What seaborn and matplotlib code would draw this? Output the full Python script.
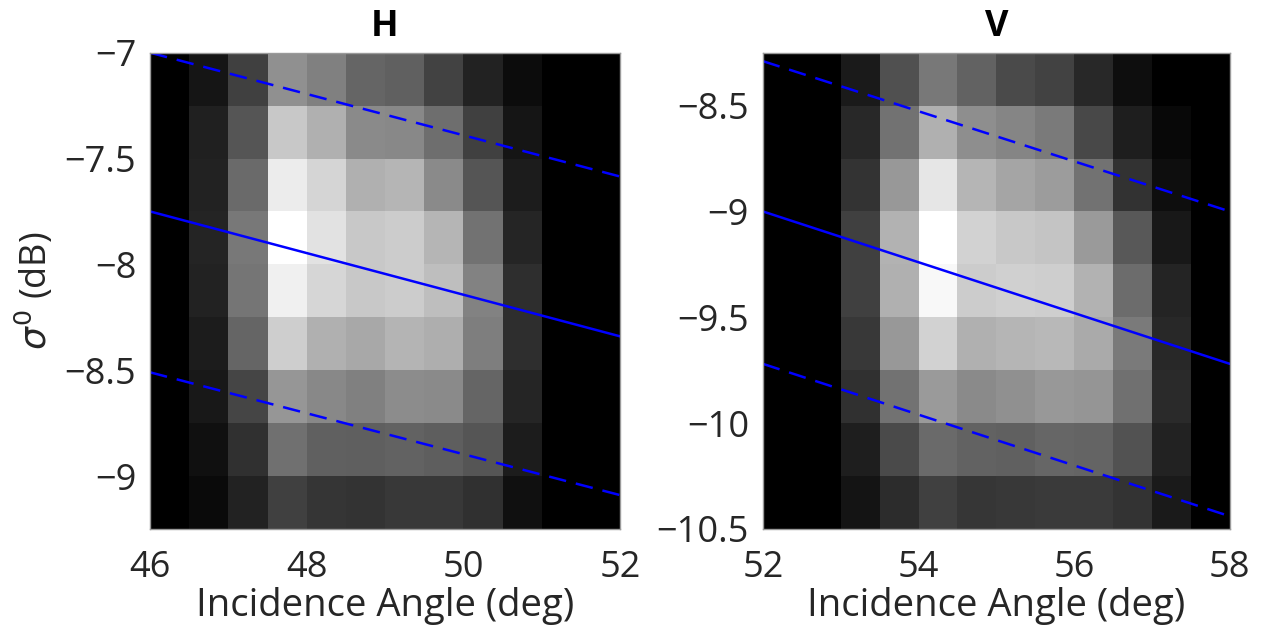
import matplotlib
matplotlib.use("Agg")
import matplotlib.pyplot as plt
import numpy as np
import pandas as pd
import seaborn as sns

# ---------------- data ----------------
# bin centres
H_angles = [46.25, 46.75, 47.25, 47.75, 48.25, 48.75, 49.25, 49.75, 50.25, 50.75, 51.25, 51.75]
H_sigma = [-7.125, -7.375, -7.625, -7.875, -8.125, -8.375, -8.625, -8.875, -9.125]
V_angles = [52.25, 52.75, 53.25, 53.75, 54.25, 54.75, 55.25, 55.75, 56.25, 56.75, 57.25, 57.75]
V_sigma = [-8.375, -8.625, -8.875, -9.125, -9.375, -9.625, -9.875, -10.125, -10.375]

# 2-D histogram intensity (0-255), rows top -> bottom
H_counts = [
    [0, 21, 64, 144, 128, 101, 96, 66, 34, 12, 0, 0],
    [0, 32, 85, 200, 176, 138, 136, 110, 64, 21, 0, 0],
    [0, 34, 106, 236, 213, 176, 181, 138, 85, 28, 0, 0],
    [0, 36, 120, 255, 226, 200, 204, 181, 114, 37, 0, 0],
    [0, 34, 117, 240, 214, 200, 204, 190, 130, 46, 0, 0],
    [0, 28, 101, 206, 176, 168, 180, 174, 126, 46, 0, 0],
    [0, 24, 69, 150, 136, 128, 140, 138, 101, 37, 0, 0],
    [0, 16, 48, 112, 96, 95, 98, 94, 85, 28, 0, 0],
    [0, 10, 34, 64, 53, 51, 56, 56, 48, 16, 0, 0],
]
V_counts = [
    [0, 0, 26, 80, 120, 98, 74, 66, 40, 14, 0, 0],
    [0, 0, 40, 114, 176, 142, 133, 122, 72, 30, 8, 0],
    [0, 0, 51, 152, 230, 181, 165, 156, 114, 50, 14, 0],
    [0, 0, 64, 178, 255, 210, 200, 196, 154, 88, 24, 0],
    [0, 0, 64, 176, 248, 204, 208, 206, 178, 108, 36, 0],
    [0, 0, 56, 152, 210, 176, 181, 184, 170, 122, 40, 0],
    [0, 0, 48, 114, 154, 138, 144, 152, 149, 112, 42, 0],
    [0, 0, 30, 74, 106, 98, 96, 102, 100, 82, 34, 0],
    [0, 0, 20, 44, 64, 54, 56, 58, 58, 51, 26, 0],
]

# fitted line and bounds (end points)
H_line_x = [46, 52]
H_fit = [-7.75, -8.34]
H_upper = [-7.0, -7.585]
H_lower = [-8.51, -9.09]
V_line_x = [52, 58]
V_fit = [-9.0, -9.72]
V_upper = [-8.29, -9.0]
V_lower = [-9.72, -10.44]

H_xticks = [46, 48, 50, 52]
H_yticks = [-7, -7.5, -8, -8.5, -9]
V_xticks = [52, 54, 56, 58]
V_yticks = [-8.5, -9, -9.5, -10, -10.5]

# ---------------- style ----------------
sns.set_style("white")
plt.rcParams["font.family"] = ["Open Sans", "DejaVu Sans"]
plt.rcParams["axes.unicode_minus"] = True
FS = 26
FL = 27.5
TXT = "#262626"

fig = plt.figure(figsize=(12.61, 6.31), dpi=100)


def fmt(v):
    return ("%g" % v).replace("-", "\u2212")


def panel(pos, angles, sigma, counts, lx, fit, up, lo, xt, yt, title, ylabel):
    df = pd.DataFrame(counts, index=sigma, columns=angles)
    ax_img = fig.add_axes(pos)
    sns.heatmap(df, ax=ax_img, cmap="gray", vmin=0, vmax=255, cbar=False,
                xticklabels=False, yticklabels=False)
    ax_img.set_xlabel("")
    ax_img.set_ylabel("")
    ax_img.tick_params(length=0)

    ax = fig.add_axes(pos, facecolor="none")
    dash = (0, (7.0, 4.0))
    sns.lineplot(x=lx, y=fit, ax=ax, color="#0000ff", lw=1.8)
    sns.lineplot(x=lx, y=up, ax=ax, color="#0000ff", lw=1.8, ls=dash)
    sns.lineplot(x=lx, y=lo, ax=ax, color="#0000ff", lw=1.8, ls=dash)
    dx = (angles[1] - angles[0]) / 2
    dy = (sigma[0] - sigma[1]) / 2
    ax.set_xlim(angles[0] - dx, angles[-1] + dx)
    ax.set_ylim(sigma[-1] - dy, sigma[0] + dy)
    ax.set_xticks(xt)
    ax.set_xticklabels([fmt(v) for v in xt])
    ax.set_yticks(yt)
    ax.set_yticklabels([fmt(v) for v in yt])
    ax.tick_params(axis="x", length=0, labelsize=FS, colors=TXT, pad=15)
    ax.tick_params(axis="y", length=0, labelsize=FS, colors=TXT, pad=10)
    for sp in ax.spines.values():
        sp.set_color("#9a9a9a")
        sp.set_linewidth(1.0)
    ax.set_xlabel("Incidence Angle (deg)", fontsize=FL, color=TXT, labelpad=1)
    if ylabel:
        ax.set_ylabel(ylabel, fontsize=FS, color=TXT, labelpad=6)
    ax.set_title(title, fontsize=FS, fontweight="bold", color="black", pad=12)
    return ax


panel([0.119, 0.1617, 0.3727, 0.7548], H_angles, H_sigma, H_counts,
      H_line_x, H_fit, H_upper, H_lower, H_xticks, H_yticks, "H", r"$\sigma^0$ (dB)")
panel([0.605, 0.1617, 0.3703, 0.7548], V_angles, V_sigma, V_counts,
      V_line_x, V_fit, V_upper, V_lower, V_xticks, V_yticks, "V", None)

fig.savefig("out.png", dpi=100)
